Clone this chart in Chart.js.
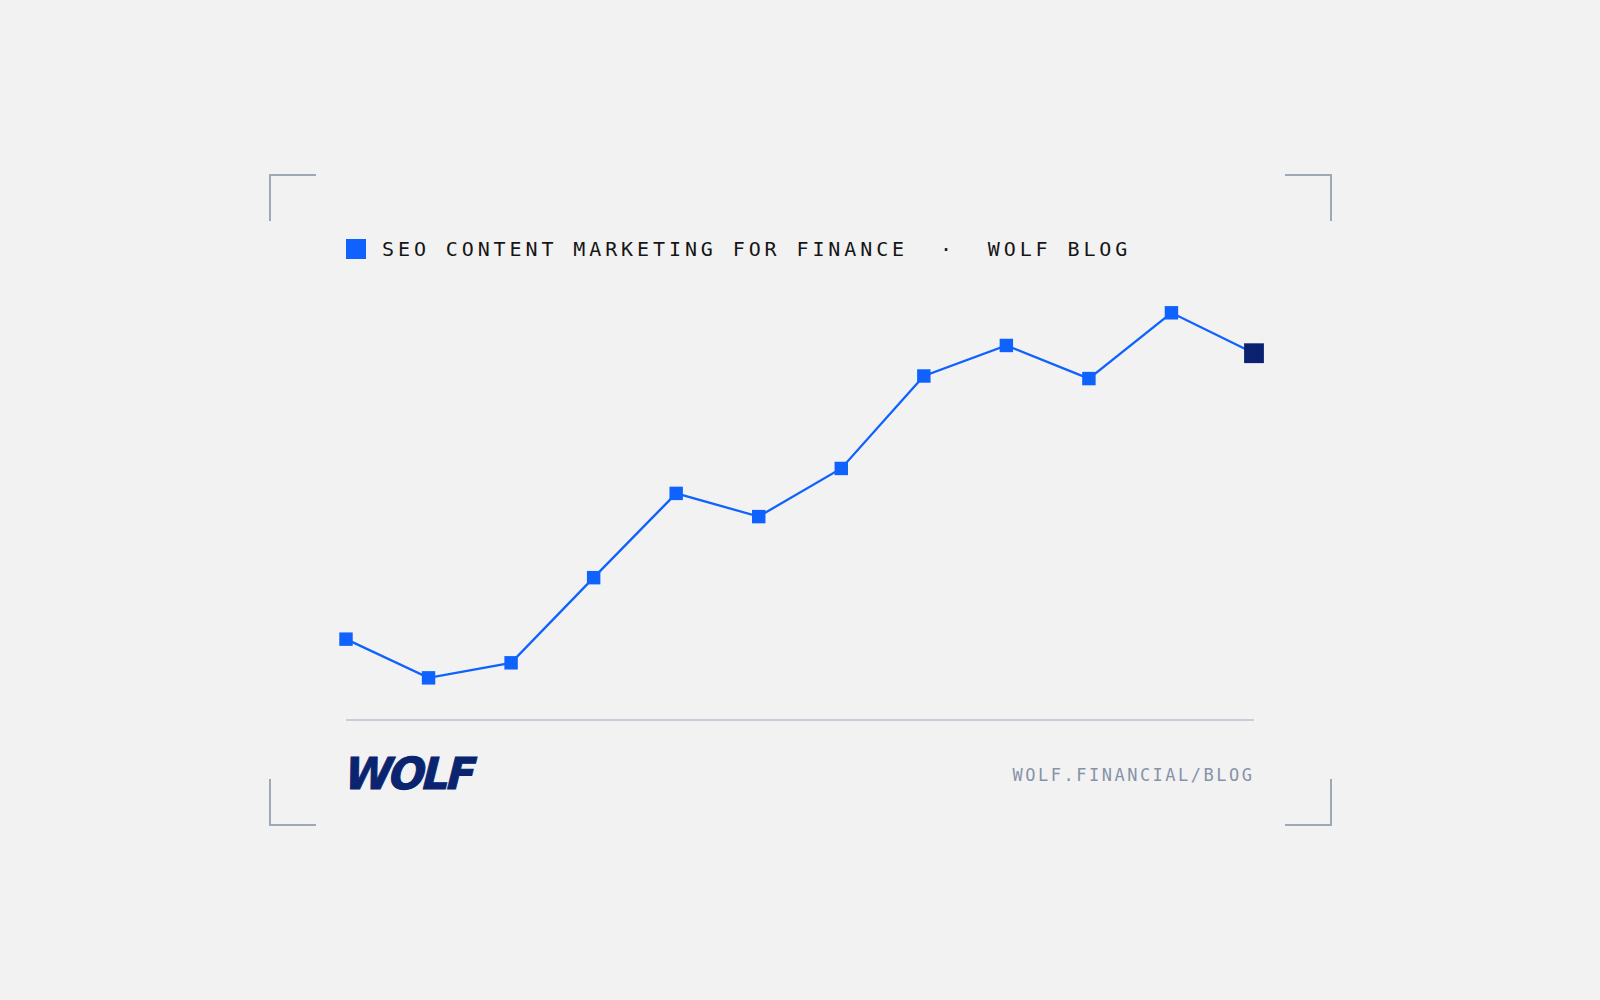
<!DOCTYPE html>
<html>
<head>
<meta charset="utf-8">
<script src="https://cdn.jsdelivr.net/npm/chart.js@4/dist/chart.umd.min.js"></script>
<style>
  html, body { margin: 0; padding: 0; background: #f2f2f2; }
  #stage { position: relative; width: 1600px; height: 1000px; background: #f2f2f2; overflow: hidden; }
  .corner { position: absolute; width: 45px; height: 45px; border-color: #9ea8b6; border-style: solid; border-width: 0; }
  .tl { left: 269px; top: 174px; border-left-width: 2px; border-top-width: 2px; }
  .tr { left: 1285px; top: 174px; border-right-width: 2px; border-top-width: 2px; }
  .bl { left: 269px; top: 779px; border-left-width: 2px; border-bottom-width: 2px; }
  .br { left: 1285px; top: 779px; border-right-width: 2px; border-bottom-width: 2px; }
  #title { position: absolute; left: 346px; top: 239px; height: 20px; display: flex; align-items: center; }
  #title .swatch { width: 20px; height: 20px; background: #0f62fe; margin-right: 16px; }
  #title .text { font-family: "DejaVu Sans Mono", monospace; font-size: 20px; letter-spacing: 3.9px; color: #161616; white-space: pre; line-height: 20px; }
  #chart { position: absolute; left: 300px; top: 270px; }
  #rule { position: absolute; left: 346px; top: 719px; width: 908px; height: 2px; background: #c8cdd9; }
  #logo { position: absolute; left: 339px; top: 748px; font-family: "DejaVu Sans", sans-serif; font-weight: bold; font-size: 44px; line-height: 52px; color: #0a2470; letter-spacing: -3px; transform-origin: left bottom; transform: skewX(-14deg) scaleX(0.97); -webkit-text-stroke: 1px #0a2470; }
  #url { position: absolute; right: 348px; top: 763px; font-family: "DejaVu Sans Mono", monospace; font-size: 17px; letter-spacing: 2.5px; color: #8792a8; line-height: 24px; margin-right: -2.5px; }
</style>
</head>
<body>
<div id="stage">
  <div class="corner tl"></div>
  <div class="corner tr"></div>
  <div class="corner bl"></div>
  <div class="corner br"></div>
  <div id="title"><div class="swatch"></div><div class="text">SEO CONTENT MARKETING FOR FINANCE  ·  WOLF BLOG</div></div>
  <canvas id="chart" width="1000" height="470"></canvas>
  <div id="rule"></div>
  <div id="logo">WOLF</div>
  <div id="url">WOLF.FINANCIAL/BLOG</div>
</div>
<script>
// periods along the x axis (no labels are shown in the picture)
const periods = ["P1", "P2", "P3", "P4", "P5", "P6", "P7", "P8", "P9", "P10", "P11", "P12"];
// relative index, 0 = rule line
const seoIndex = [18.8, 9.8, 13.3, 33.1, 52.7, 47.3, 58.5, 80.0, 87.1, 79.4, 94.7, 85.3];

const blue = "#0f62fe";
const navy = "#0a2270";
const lastIdx = seoIndex.length - 1;

const ctx = document.getElementById("chart").getContext("2d");
new Chart(ctx, {
  type: "line",
  data: {
    labels: periods,
    datasets: [{
      data: seoIndex,
      borderColor: blue,
      borderWidth: 2.3,
      tension: 0,
      clip: false,
      pointStyle: "rect",
      pointRadius: seoIndex.map((v, i) => (i === lastIdx ? 14 : 9.5)),
      pointBackgroundColor: seoIndex.map((v, i) => (i === lastIdx ? navy : blue)),
      pointBorderWidth: 0,
      pointHoverRadius: 0
    }]
  },
  options: {
    responsive: false,
    animation: false,
    events: [],
    layout: { padding: { left: 46, right: 46, top: 20, bottom: 20 } },
    plugins: { legend: { display: false }, tooltip: { enabled: false } },
    scales: {
      x: { display: false, offset: false },
      y: { display: false, min: 0, max: 100 }
    }
  }
});
</script>
</body>
</html>
